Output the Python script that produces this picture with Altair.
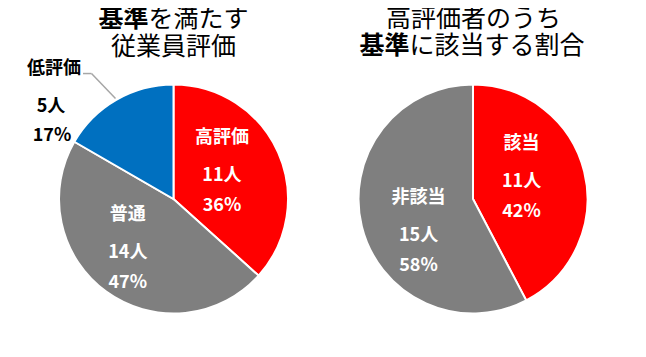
import altair as alt
import pandas as pd

# ---- data ----
left_title_bold = "基準"
left_title_rest = "を満たす"
left_title_line2 = "従業員評価"
right_title_line1 = "高評価者のうち"
right_title_bold = "基準"
right_title_rest = "に該当する割合"

left_categories = ["高評価", "普通", "低評価"]
left_counts = [11, 14, 5]
left_percents = [36, 47, 17]

right_categories = ["該当", "非該当"]
right_counts = [11, 15]
right_percents = [42, 58]

# ---- style / layout ----
FONT = "Noto Sans CJK JP"
R = 114.5
LCX, LCY = 165.5, 191
RCX, RCY = 465, 191
RED, GRAY, BLUE = "#FF0000", "#7F7F7F", "#0070C0"

color_scale = alt.Scale(
    domain=left_categories + right_categories,
    range=[RED, GRAY, BLUE, RED, GRAY],
)


def base(cats, counts, pcts):
    df = pd.DataFrame({"cat": cats, "count": counts, "pct": pcts, "idx": list(range(len(cats)))})
    return (
        alt.Chart(df)
        .transform_window(cum="sum(count)", sort=[alt.SortField("idx", order="ascending")], frame=[None, 0])
        .transform_joinaggregate(total="sum(count)")
        .transform_calculate(
            start="2*PI*(datum.cum-datum.count)/datum.total",
            end="2*PI*datum.cum/datum.total",
            mid="2*PI*(datum.cum-datum.count/2)/datum.total",
            cnt_lbl="datum.count + '人'",
            pct_lbl="datum.pct + '%'",
        )
    )


def arcs(b, cx, cy):
    return b.mark_arc(outerRadius=R, stroke="#FFFFFF", strokeWidth=2).encode(
        x=alt.value(cx),
        y=alt.value(cy),
        theta=alt.Theta("start:Q", scale=None),
        theta2=alt.Theta2("end:Q"),
        color=alt.Color("cat:N", scale=color_scale, legend=None),
    )


def label(b, cx, cy, cat, r, dx, dy, color, name_dy=-38.5, pct_dy=30, name_dx=0, pct_dx=0):
    f = b.transform_filter(alt.datum.cat == cat)
    enc = dict(x=alt.value(cx), y=alt.value(cy), theta=alt.Theta("mid:Q", scale=None))
    common = dict(radius=r, font=FONT, fontSize=18, fontWeight="bold", color=color,
                  align="center", baseline="middle")
    name = f.mark_text(dx=dx + name_dx, dy=dy + name_dy, **common).encode(text="cat:N", **enc)
    cnt = f.mark_text(dx=dx, dy=dy, **common).encode(text="cnt_lbl:N", **enc)
    pct = f.mark_text(dx=dx + pct_dx, dy=dy + pct_dy, **common).encode(text="pct_lbl:N", **enc)
    return [name, cnt, pct]


def title_text(txt, x, y, align, weight):
    return alt.Chart(pd.DataFrame({"t": [txt]})).mark_text(
        font=FONT, fontSize=25, fontWeight=weight, color="#000000", align=align, baseline="middle"
    ).encode(text="t:N", x=alt.value(x), y=alt.value(y))


lb = base(left_categories, left_counts, left_percents)
rb = base(right_categories, right_counts, right_percents)

layers = [arcs(lb, LCX, LCY), arcs(rb, RCX, RCY)]
layers += label(lb, LCX, LCY, "高評価", 53, 0, -1, "#FFFFFF")
layers += label(lb, LCX, LCY, "普通", 71, -4, -3, "#FFFFFF")
layers += label(lb, LCX, LCY, "低評価", 130, -57.5, 21, "#000000", name_dy=-38, pct_dy=28.5, name_dx=3, pct_dx=1)
layers += label(rb, RCX, RCY, "該当", 51, -1, -4.3, "#FFFFFF")
layers += label(rb, RCX, RCY, "非該当", 66, 9.6, 21.7, "#FFFFFF")

# leader line for the outside label
lead = (
    lb.transform_filter(alt.datum.cat == "低評価")
    .transform_calculate(ex=f"{LCX}+{R + 1.5}*sin(datum.mid)", ey=f"{LCY}-{R + 1.5}*cos(datum.mid)")
    .transform_calculate(bx="datum.ex-24", by="datum.ey-25")
    .transform_calculate(ax="datum.bx-8.5")
)
seg1 = lead.mark_rule(color="#A6A6A6", strokeWidth=1.5).encode(
    x=alt.X("ax:Q", scale=None, axis=None), y=alt.Y("by:Q", scale=None, axis=None),
    x2="bx:Q", y2="by:Q")
seg2 = lead.mark_rule(color="#A6A6A6", strokeWidth=1.5).encode(
    x=alt.X("bx:Q", scale=None, axis=None), y=alt.Y("by:Q", scale=None, axis=None),
    x2="ex:Q", y2="ey:Q")
layers += [seg1, seg2]

# titles
layers += [
    title_text(left_title_bold, 140.5, 10.5, "right", "bold"),
    title_text(left_title_rest, 140.5, 10.5, "left", "normal"),
    title_text(left_title_line2, LCX, 39, "center", "normal"),
    title_text(right_title_line1, 465.5, 11, "center", "normal"),
    title_text(right_title_bold, 401.5, 38, "right", "bold"),
    title_text(right_title_rest, 401.5, 38, "left", "normal"),
]

chart = (
    alt.layer(*layers)
    .properties(width=630, height=341, autosize=alt.AutoSizeParams(type="none"), padding=0)
    .configure_view(stroke=None)
)

chart.save("out.html", embed_options={"renderer": "svg", "actions": False})
